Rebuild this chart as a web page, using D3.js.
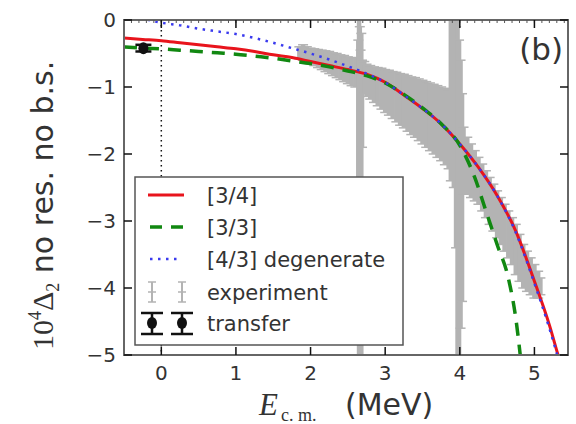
<!DOCTYPE html>
<html>
<head>
<meta charset="utf-8">
<script src="https://cdn.jsdelivr.net/npm/d3@7"></script>
<style>
  body { margin: 0; background: #fff; }
  text { font-family: "DejaVu Sans", sans-serif; fill: #333; }
</style>
</head>
<body>
<svg id="chart" width="576" height="424"></svg>
<script>
// curve samples
const curveE   = [-0.5, -0.25, 0, 0.25, 0.5, 0.75, 1, 1.25, 1.5, 1.75, 2, 2.25, 2.5, 2.75, 3, 3.25, 3.5, 3.75, 4, 4.25, 4.5, 4.75, 5, 5.2, 5.33, 5.4];
const pade34   = [-0.27, -0.29, -0.31, -0.34, -0.37, -0.40, -0.43, -0.47, -0.52, -0.56, -0.62, -0.68, -0.74, -0.81, -0.93, -1.12, -1.32, -1.55, -1.85, -2.20, -2.62, -3.15, -3.90, -4.55, -5.05, -5.3];
const pade43   = [0.08, 0.02, -0.04, -0.08, -0.13, -0.17, -0.21, -0.27, -0.34, -0.42, -0.50, -0.59, -0.69, -0.80, -0.93, -1.12, -1.32, -1.55, -1.85, -2.20, -2.62, -3.17, -3.93, -4.60, -5.1, -5.4];
const pade33E  = [-0.5, -0.25, 0, 0.25, 0.5, 0.75, 1, 1.25, 1.5, 1.75, 2, 2.25, 2.5, 2.75, 3, 3.25, 3.5, 3.75, 4, 4.2, 4.35, 4.5, 4.65, 4.75, 4.82];
const pade33   = [-0.40, -0.42, -0.43, -0.45, -0.47, -0.49, -0.51, -0.54, -0.57, -0.61, -0.65, -0.70, -0.76, -0.83, -0.94, -1.11, -1.31, -1.55, -1.87, -2.35, -2.85, -3.35, -3.85, -4.45, -5.1];

// experiment error bars: energy, top and bottom of each bar
const expE  = [1.85, 1.90, 1.95, 2.00, 2.05, 2.10, 2.15, 2.20, 2.25, 2.30, 2.35, 2.40, 2.45, 2.50, 2.55, 2.60,
               2.64, 2.65, 2.66, 2.67, 2.68, 2.69,
               2.72, 2.75, 2.80, 2.85, 2.90, 2.95, 3.00, 3.05, 3.10, 3.15, 3.20, 3.25, 3.30, 3.35, 3.40, 3.45,
               3.50, 3.55, 3.60, 3.65, 3.70, 3.75, 3.80, 3.85,
               3.88, 3.92, 3.95, 3.97, 3.99, 4.01, 4.03,
               4.05, 4.10, 4.15, 4.20, 4.25, 4.30, 4.35, 4.40, 4.45, 4.50, 4.55, 4.60, 4.65, 4.70, 4.75,
               4.80, 4.85, 4.90, 4.95, 5.00, 5.05, 5.08];
const expHi = [-0.40, -0.37, -0.40, -0.42, -0.43, -0.44, -0.45, -0.46, -0.47, -0.49, -0.50, -0.52, -0.53, -0.55, -0.56, -0.57,
               -0.3, 0.05, -0.1, -0.45, -0.2, -0.6,
               -0.62, -0.66, -0.68, -0.70, -0.71, -0.72, -0.74, -0.75, -0.77, -0.78, -0.80, -0.81, -0.83, -0.85, -0.86, -0.88,
               -0.90, -0.92, -0.94, -0.96, -0.98, -1.00, -1.02, -1.04,
               0.05, 0.05, -0.1, 0.05, -0.3, -0.6, -1.1,
               -1.60, -1.75, -1.85, -1.95, -2.05, -2.15, -2.25, -2.35, -2.45, -2.55, -2.65, -2.75, -2.85, -2.95, -3.05,
               -3.20, -3.35, -3.45, -3.55, -3.65, -3.75, -3.85];
const expLo = [-0.58, -0.60, -0.62, -0.65, -0.68, -0.71, -0.74, -0.77, -0.80, -0.83, -0.86, -0.89, -0.92, -0.95, -0.98, -1.00,
               -3.6, -5.2, -4.4, -2.9, -5.2, -1.9,
               -1.10, -1.14, -1.18, -1.23, -1.28, -1.33, -1.38, -1.42, -1.47, -1.52, -1.57, -1.61, -1.66, -1.71, -1.75, -1.80,
               -1.85, -1.90, -1.95, -2.00, -2.05, -2.10, -2.16, -2.22,
               -2.40, -2.50, -3.4, -5.2, -5.2, -4.6, -4.2,
               -2.60, -2.60, -2.65, -2.70, -2.75, -2.85, -2.95, -3.05, -3.15, -3.25, -3.35, -3.45, -3.55, -3.65, -3.80,
               -3.90, -4.00, -4.05, -4.10, -4.15, -4.15, -4.10];

// transfer point
const transferE = [-0.24];
const transferV = [-0.42];
const transferErr = [0.05];

const xTicks = [0, 1, 2, 3, 4, 5];
const yTicks = [0, -1, -2, -3, -4, -5];
const legendLabels = ["[3/4]", "[3/3]", "[4/3] degenerate", "experiment", "transfer"];

const margin = { left: 124, top: 20, right: 8, bottom: 69 };
const W = 576, H = 424;
const width = W - margin.left - margin.right;
const height = H - margin.top - margin.bottom;

const svg = d3.select("#chart");

const x = d3.scaleLinear().domain([-0.5, 5.45]).range([margin.left, margin.left + width]);
const y = d3.scaleLinear().domain([-5, 0]).range([margin.top + height, margin.top]);

svg.append("clipPath").attr("id", "clip")
  .append("rect")
  .attr("x", margin.left).attr("y", margin.top)
  .attr("width", width).attr("height", height);

const plot = svg.append("g").attr("clip-path", "url(#clip)");

// dotted line at threshold
plot.append("line")
  .attr("x1", x(0)).attr("x2", x(0))
  .attr("y1", y(0)).attr("y2", y(-5))
  .attr("stroke", "#111").attr("stroke-width", 1.5)
  .attr("stroke-dasharray", "1.5,3.5");

// experiment
const grey = "#b3b3b3";
const expG = plot.append("g").attr("stroke", grey);
expE.forEach((e, i) => {
  const px = x(e);
  expG.append("line").attr("x1", px).attr("x2", px).attr("y1", y(expHi[i])).attr("y2", y(expLo[i])).attr("stroke-width", 4.5);
  expG.append("line").attr("x1", px - 5).attr("x2", px + 5).attr("y1", y(expHi[i])).attr("y2", y(expHi[i])).attr("stroke-width", 1.5);
  expG.append("line").attr("x1", px - 5).attr("x2", px + 5).attr("y1", y(expLo[i])).attr("y2", y(expLo[i])).attr("stroke-width", 1.5);
});

// curves
const line = d3.line().curve(d3.curveMonotoneX);
plot.append("path")
  .attr("d", line(curveE.map((e, i) => [x(e), y(pade34[i])])))
  .attr("fill", "none").attr("stroke", "#e8141c").attr("stroke-width", 3);
plot.append("path")
  .attr("d", line(pade33E.map((e, i) => [x(e), y(pade33[i])])))
  .attr("fill", "none").attr("stroke", "#118811").attr("stroke-width", 3.5)
  .attr("stroke-dasharray", "13,9");
plot.append("path")
  .attr("d", line(curveE.map((e, i) => [x(e), y(pade43[i])])))
  .attr("fill", "none").attr("stroke", "#3a3aee").attr("stroke-width", 2.5)
  .attr("stroke-dasharray", "2.5,5.5");

// transfer point
function drawTransfer(g, px, pyTop, pyMid, pyBot, cap) {
  g.append("line").attr("x1", px).attr("x2", px).attr("y1", pyTop).attr("y2", pyBot)
    .attr("stroke", "#111").attr("stroke-width", 2.5);
  [pyTop, pyBot].forEach(py => g.append("line")
    .attr("x1", px - cap / 2).attr("x2", px + cap / 2).attr("y1", py).attr("y2", py)
    .attr("stroke", "#111").attr("stroke-width", 2.5));
  g.append("ellipse").attr("cx", px).attr("cy", pyMid).attr("rx", 5).attr("ry", 6).attr("fill", "#111");
}
transferE.forEach((e, i) => {
  drawTransfer(plot, x(e), y(transferV[i] + transferErr[i]), y(transferV[i]), y(transferV[i] - transferErr[i]), 16);
});

// axes frame
svg.append("rect")
  .attr("x", margin.left).attr("y", margin.top)
  .attr("width", width).attr("height", height)
  .attr("fill", "none").attr("stroke", "#666").attr("stroke-width", 2);

const axG = svg.append("g");
// minor ticks along the top
d3.range(-4, 55).forEach(k => {
  const v = k / 10;
  axG.append("line").attr("x1", x(v)).attr("x2", x(v)).attr("y1", margin.top).attr("y2", margin.top + 3)
    .attr("stroke", "#555").attr("stroke-width", 1);
});
xTicks.forEach(t => {
  axG.append("line").attr("x1", x(t)).attr("x2", x(t)).attr("y1", y(-5)).attr("y2", y(-5) - 8).attr("stroke", "#111").attr("stroke-width", 1.5);
  axG.append("line").attr("x1", x(t)).attr("x2", x(t)).attr("y1", y(0)).attr("y2", y(0) + 8).attr("stroke", "#111").attr("stroke-width", 1.5);
  axG.append("text").attr("x", x(t)).attr("y", 380).attr("text-anchor", "middle")
    .attr("font-size", 20).text(d3.format("d")(t));
});
yTicks.forEach(t => {
  axG.append("line").attr("x1", margin.left).attr("x2", margin.left + 8).attr("y1", y(t)).attr("y2", y(t)).attr("stroke", "#111").attr("stroke-width", 1.5);
  axG.append("line").attr("x1", margin.left + width).attr("x2", margin.left + width - 8).attr("y1", y(t)).attr("y2", y(t)).attr("stroke", "#111").attr("stroke-width", 1.5);
  axG.append("text").attr("x", 116).attr("y", y(t) + 7).attr("text-anchor", "end")
    .attr("font-size", 20).text(t === 0 ? "0" : "\u2212" + Math.abs(t));
});

// panel tag
svg.append("text").attr("x", 563).attr("y", 60).attr("text-anchor", "end")
  .attr("font-size", 31).text("(b)");

// axis labels
svg.append("text").attr("x", 259).attr("y", 415)
  .style("font-family", "'Liberation Serif', serif").style("font-style", "italic")
  .attr("font-size", 31).text("E");
svg.append("text").attr("x", 281).attr("y", 421)
  .style("font-family", "'Liberation Serif', serif")
  .attr("font-size", 18).text("c. m.");
svg.append("text").attr("x", 345).attr("y", 415)
  .attr("font-size", 30).text("(MeV)");

const yl = svg.append("text").attr("transform", "translate(53,350) rotate(-90)");
yl.append("tspan").style("font-family", "'Liberation Serif', serif").attr("font-size", 30).text("10");
yl.append("tspan").style("font-family", "'Liberation Serif', serif").attr("font-size", 18).attr("dy", -12).text("4");
yl.append("tspan").style("font-family", "'Liberation Serif', serif").attr("font-size", 30).attr("dy", 12).text("\u0394");
yl.append("tspan").style("font-family", "'Liberation Serif', serif").attr("font-size", 18).attr("dy", 6).text("2");
yl.append("tspan").attr("font-size", 30).attr("dy", -6).text("\u00a0no res. no b.s.");

// legend
const lg = svg.append("g");
lg.append("rect").attr("x", 135).attr("y", 177).attr("width", 268).attr("height", 168)
  .attr("fill", "#fff").attr("stroke", "#555").attr("stroke-width", 1.5);
const rowY = [195, 227, 259, 292, 323];
lg.append("line").attr("x1", 148).attr("x2", 184).attr("y1", rowY[0]).attr("y2", rowY[0])
  .attr("stroke", "#e8141c").attr("stroke-width", 3);
lg.append("line").attr("x1", 150).attr("x2", 184).attr("y1", rowY[1]).attr("y2", rowY[1])
  .attr("stroke", "#118811").attr("stroke-width", 3.5).attr("stroke-dasharray", "12,9");
lg.append("line").attr("x1", 150).attr("x2", 180).attr("y1", rowY[2]).attr("y2", rowY[2])
  .attr("stroke", "#3a3aee").attr("stroke-width", 2.5).attr("stroke-dasharray", "2.5,5.5");
[152, 182].forEach(px => {
  const cy = rowY[3];
  lg.append("line").attr("x1", px).attr("x2", px).attr("y1", cy - 10).attr("y2", cy + 10).attr("stroke", grey).attr("stroke-width", 2);
  [cy - 10, cy, cy + 10].forEach(py => lg.append("line").attr("x1", px - 4).attr("x2", px + 4)
    .attr("y1", py).attr("y2", py).attr("stroke", grey).attr("stroke-width", 1.5));
  drawTransfer(lg, px, rowY[4] - 10, rowY[4], rowY[4] + 11, 22);
});
legendLabels.forEach((s, i) => {
  lg.append("text").attr("x", 207).attr("y", rowY[i] + 8).attr("font-size", 21).text(s);
});
</script>
</body>
</html>
